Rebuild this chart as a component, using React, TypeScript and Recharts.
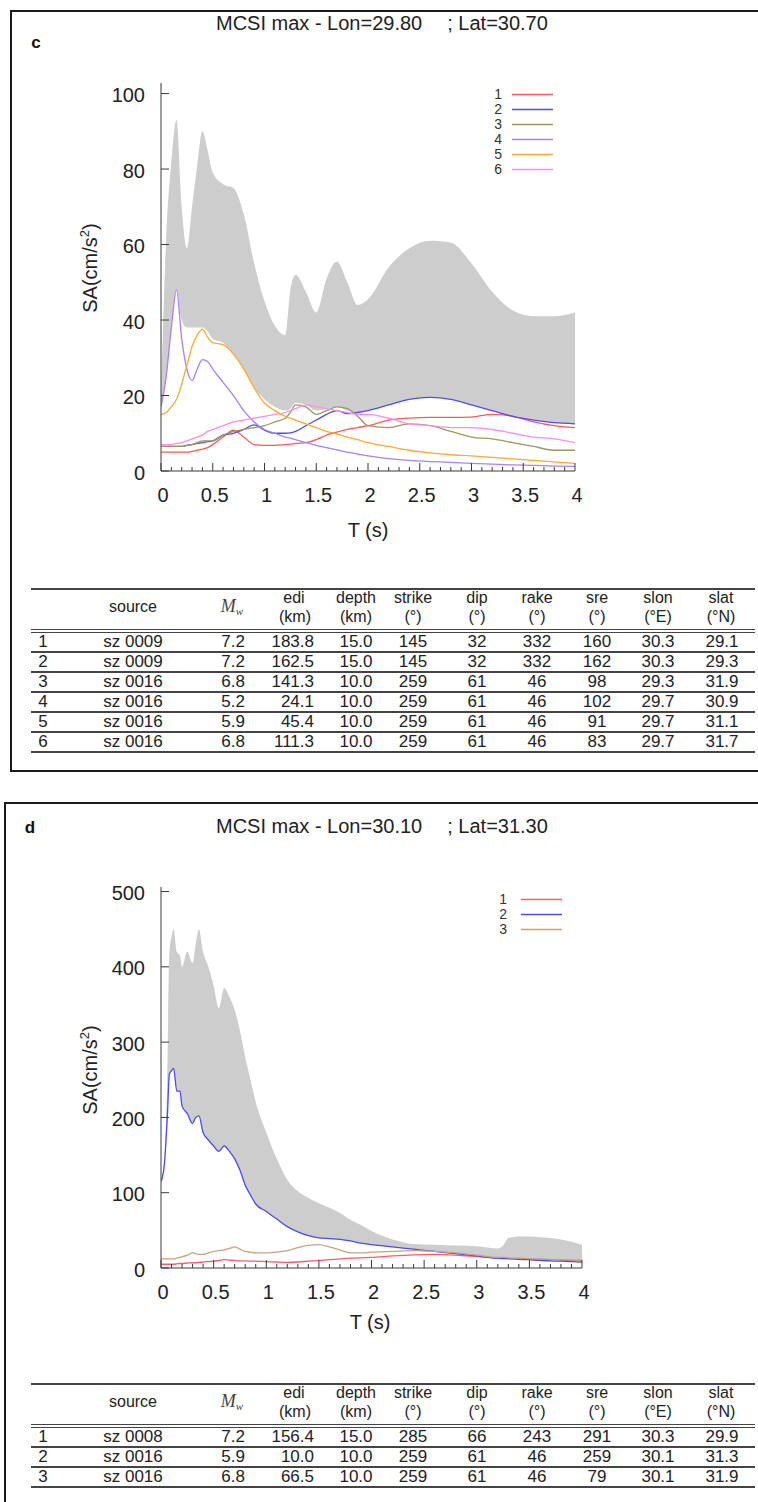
import React from 'react';
import { Area, ComposedChart, Legend, Line, XAxis, YAxis } from 'recharts';

const SANS = '"Liberation Sans", Arial, Helvetica, sans-serif';
const FRAME = '#3a3a3a';
const INK = '#222';
const BAND = '#cdcdcd';

// period grid (s) and spectra for panel c
const T_C = [0, 0.05, 0.1, 0.15, 0.2, 0.25, 0.3, 0.35, 0.4, 0.45, 0.5, 0.6, 0.7, 0.8, 0.9, 1.0, 1.1, 1.2, 1.25, 1.3, 1.4, 1.5, 1.6, 1.7, 1.8, 1.9, 2.0, 2.2, 2.4, 2.6, 2.8, 3.0, 3.2, 3.4, 3.6, 3.8, 4.0];
const UPPER_C = [20, 62, 82, 93, 70, 59, 70, 81, 90, 85, 79, 76, 75, 68, 55, 45, 38.5, 36, 48, 52, 47.5, 42, 51, 55.5, 50, 44, 45.5, 54, 59, 61, 60.5, 55, 47.5, 42.5, 41, 41, 42];
const LOWER_C = [17, 25, 38, 48, 40, 38, 38, 38, 38, 37, 35, 34, 31, 27, 22, 19, 17, 16, 16.5, 18, 17.5, 16, 16.5, 17, 16, 15.5, 16, 17.5, 19, 19.5, 19, 17.5, 16, 14.5, 13.5, 12.8, 12.5];
const S1_C = [5, 5, 5, 5, 5, 5, 5.2, 5.5, 5.8, 6.2, 7, 9, 10.8, 9, 7, 6.8, 6.8, 7, 7.1, 7.3, 7.5, 8.3, 9.5, 10.3, 11, 11.5, 12, 13.5, 14, 14.2, 14.2, 14.3, 15, 14.5, 13, 12, 11.5];
const S2_C = [6.5, 6.5, 6.5, 6.5, 6.5, 6.8, 7, 7.3, 7.5, 7.8, 8, 9.5, 10, 11, 12.2, 10.8, 10, 10, 10.1, 10.5, 12, 13.5, 15, 16, 15.2, 15.5, 16, 17.5, 19, 19.5, 19, 17.5, 16, 14.5, 13.5, 12.8, 12.5];
const S3_C = [6.5, 6.5, 6.5, 6.5, 6.5, 6.8, 7, 7.5, 8, 8, 8, 9.5, 10.5, 11, 11.5, 12, 13, 14, 15.5, 17.5, 17, 15, 16, 17, 16.5, 14.5, 12, 11.5, 12.5, 12, 10.5, 9, 8.5, 7.5, 6.5, 5.5, 5.5];
const S4_C = [17, 25, 38, 48, 35, 27, 24, 27, 29.5, 29, 27, 23.5, 20, 16, 13, 11, 10, 9, 8.7, 8.3, 7.5, 6.8, 6.2, 5.6, 5, 4.5, 4, 3.3, 2.8, 2.5, 2.3, 2, 1.8, 1.6, 1.5, 1.3, 1.2];
const S5_C = [15, 15.5, 17, 19, 23, 28, 33, 36, 37.5, 35.5, 34, 33.5, 31, 27, 22, 18, 16, 14.5, 14, 13.5, 12.5, 11.5, 10.5, 9.8, 9, 8.3, 7.5, 6.5, 5.5, 4.8, 4.3, 4, 3.6, 3.2, 2.8, 2.4, 2];
const S6_C = [7, 7, 7, 7.3, 7.5, 8, 8.5, 9, 9.5, 10.5, 11, 12, 13, 13.5, 14, 14.5, 15, 15.5, 16, 16.5, 17.5, 17, 16.5, 16, 15.5, 15, 15, 14, 12.5, 12, 11.5, 11.5, 11, 10, 9, 8.5, 7.5];

// panel d
const T_D = [0, 0.03, 0.06, 0.08, 0.1, 0.12, 0.15, 0.18, 0.2, 0.25, 0.3, 0.33, 0.36, 0.4, 0.45, 0.5, 0.55, 0.6, 0.65, 0.7, 0.75, 0.8, 0.85, 0.9, 1.0, 1.1, 1.2, 1.3, 1.4, 1.5, 1.6, 1.7, 1.8, 1.9, 2.0, 2.2, 2.4, 2.6, 2.8, 3.0, 3.2, 3.25, 3.3, 3.4, 3.5, 3.6, 3.7, 3.8, 3.9, 4.0];
const UPPER_D = [115, 140, 260, 420, 440, 450, 420, 415, 400, 420, 405, 430, 450, 420, 400, 375, 345, 372, 360, 343, 315, 280, 250, 220, 180, 145, 117, 102, 93, 86, 80, 73, 64, 57, 49, 38, 32, 31, 30, 29, 26, 30, 40, 42, 42, 41, 40, 38, 35, 31];
const LOWER_D = [115, 135, 200, 258, 262, 265, 235, 235, 215, 205, 192, 200, 202, 180, 170, 162, 155, 162, 155, 145, 130, 110, 97, 85, 75, 65, 55, 48, 43, 40, 39, 38, 36, 33, 31, 28, 25, 22.5, 20, 17, 14, 14, 13.5, 13, 12.5, 12, 11.5, 11, 10.5, 10];
const S1_D = [5, 5, 5, 5, 5, 5, 5.5, 6, 6, 6.5, 7, 7, 7.5, 8, 8.5, 9, 10, 11, 10.5, 10, 9.5, 9.5, 9, 9, 8.5, 8, 7.5, 8, 9, 10, 11, 12, 13, 13.5, 14, 16, 17.5, 18, 17, 15, 13, 12.5, 12.5, 12, 11.5, 11, 11, 10.5, 10, 10];
const S2_D = [115, 135, 200, 258, 262, 265, 235, 235, 215, 205, 192, 200, 202, 180, 170, 162, 155, 162, 155, 145, 130, 110, 97, 85, 75, 65, 55, 48, 43, 40, 39, 38, 36, 33, 31, 28, 25, 22, 19, 16, 13, 12.8, 12.5, 11.5, 11, 10, 9.5, 9, 8.5, 8];
const S3_D = [12, 12, 12, 12, 12, 12, 13, 14, 15, 17, 20, 19, 18, 18, 20, 22, 23, 24, 26, 28, 25, 22, 21, 20, 20, 21, 23, 27, 30, 31, 28, 24, 20, 20, 21, 22, 23, 22, 20, 17, 14, 14, 13.5, 13, 12.5, 12, 11.5, 11, 10.5, 10];

const X_TICKS = [0, 0.5, 1, 1.5, 2, 2.5, 3, 3.5, 4];
const X_MINOR = Array.from({ length: 41 }, (_, i) => i / 10);
const Y_TICKS_C = [0, 20, 40, 60, 80, 100];
const Y_TICKS_D = [0, 100, 200, 300, 400, 500];

// tables
const HEAD_1 = ['', 'source', '', 'edi', 'depth', 'strike', 'dip', 'rake', 'sre', 'slon', 'slat'];
const HEAD_2 = ['', '', '', '(km)', '(km)', '(°)', '(°)', '(°)', '(°)', '(°E)', '(°N)'];
const ROWS_C = [
  ['1', 'sz 0009', '7.2', '183.8', '15.0', '145', '32', '332', '160', '30.3', '29.1'],
  ['2', 'sz 0009', '7.2', '162.5', '15.0', '145', '32', '332', '162', '30.3', '29.3'],
  ['3', 'sz 0016', '6.8', '141.3', '10.0', '259', '61', '46', '98', '29.3', '31.9'],
  ['4', 'sz 0016', '5.2', '24.1', '10.0', '259', '61', '46', '102', '29.7', '30.9'],
  ['5', 'sz 0016', '5.9', '45.4', '10.0', '259', '61', '46', '91', '29.7', '31.1'],
  ['6', 'sz 0016', '6.8', '111.3', '10.0', '259', '61', '46', '83', '29.7', '31.7'],
];
const ROWS_D = [
  ['1', 'sz 0008', '7.2', '156.4', '15.0', '285', '66', '243', '291', '30.3', '29.9'],
  ['2', 'sz 0016', '5.9', '10.0', '10.0', '259', '61', '46', '259', '30.1', '31.3'],
  ['3', 'sz 0016', '6.8', '66.5', '10.0', '259', '61', '46', '79', '30.1', '31.9'],
];
// column anchor x and alignment
const COL_X = [43, 133, 245, 314, 356, 413, 477, 537, 597, 658, 722];
const HEAD_X = [43, 133, 232, 294, 356, 413, 477, 537, 597, 658, 721];
const COL_ALIGN = ['c', 'c', 'r', 'r', 'c', 'c', 'c', 'c', 'c', 'c', 'c'];

const fmtT = (v: number) => String(Math.round(v * 10) / 10);
const isMajor = (v: number) => Math.abs(v * 2 - Math.round(v * 2)) < 1e-6;

const BottomTick = (p: any) => {
  const v = p.payload.value;
  const major = isMajor(v);
  return (
    <g>
      <line x1={p.x} x2={p.x} y1={p.y} y2={p.y - (major ? 8 : 4)} stroke={FRAME} strokeWidth={1} />
      {major && X_TICKS.includes(v) && (
        <text x={p.x + 2} y={p.y + 31} textAnchor="middle" fontSize={20} fontFamily={SANS} fill={INK}>
          {fmtT(v)}
        </text>
      )}
    </g>
  );
};
const TopTick = (p: any) => {
  const major = isMajor(p.payload.value);
  return <line x1={p.x} x2={p.x} y1={p.y} y2={p.y + (major ? 8 : 4)} stroke={FRAME} strokeWidth={1} />;
};
const LeftTick = (p: any) => (
  <g>
    <line x1={p.x} x2={p.x + 8} y1={p.y} y2={p.y} stroke={FRAME} strokeWidth={1} />
    <text x={p.x - 16} y={p.y + 1.5} dy="0.35em" textAnchor="end" fontSize={20} fontFamily={SANS} fill={INK}>
      {p.payload.value}
    </text>
  </g>
);
const RightTick = (p: any) => <line x1={p.x} x2={p.x - 8} y1={p.y} y2={p.y} stroke={FRAME} strokeWidth={1} />;

const renderLegend = (gap: number) => (props: any) => (
  <div style={{ fontFamily: SANS, fontSize: 14, color: '#333', lineHeight: '15px' }}>
    {(props.payload || [])
      .filter((p: any) => p.type !== 'none')
      .map((p: any) => (
        <div key={p.value} style={{ display: 'flex', alignItems: 'center', height: 15 }}>
          <span style={{ width: 20, textAlign: 'right' }}>{p.value}</span>
          <svg width={gap + 42} height={15}>
            <line x1={gap} x2={gap + 41} y1={7.5} y2={7.5} stroke={p.color} strokeWidth={1.3} />
          </svg>
        </div>
      ))}
  </div>
);

type Series = { key: string; name: string; color: string; values: number[] };

interface SpectrumChartProps {
  t: number[];
  lower: number[];
  upper: number[];
  series: Series[];
  yMax: number;
  yTicks: number[];
  margin: { top: number; right: number; left: number; bottom: number };
  legend: { left: number; top: number; gap: number };
}

function SpectrumChart({ t, lower, upper, series, yMax, yTicks, margin, legend }: SpectrumChartProps) {
  const data = t.map((tv, i) => {
    const row: Record<string, any> = { t: tv, band: [lower[i], upper[i]] };
    series.forEach((s) => {
      row[s.key] = s.values[i];
    });
    return row;
  });
  return (
    <ComposedChart width={500} height={460} data={data} margin={margin}>
      <XAxis dataKey="t" type="number" domain={[0, 4]} ticks={X_MINOR} interval={0} tickSize={0} tickMargin={0} tick={BottomTick} stroke={FRAME} allowDataOverflow height={30} />
      <XAxis xAxisId="top" orientation="top" type="number" domain={[0, 4]} ticks={X_MINOR} interval={0} tickSize={0} tickMargin={0} tick={TopTick} stroke={FRAME} allowDataOverflow height={0} />
      <YAxis type="number" domain={[0, yMax]} ticks={yTicks} interval={0} tickSize={0} tickMargin={0} tick={LeftTick} stroke={FRAME} allowDataOverflow width={61} />
      <YAxis yAxisId="right" orientation="right" type="number" domain={[0, yMax]} ticks={yTicks} interval={0} tickSize={0} tickMargin={0} tick={RightTick} stroke={FRAME} allowDataOverflow width={0} />
      <Area dataKey="band" type="monotone" stroke="none" fill={BAND} fillOpacity={1} legendType="none" isAnimationActive={false} />
      {series.map((s) => (
        <Line key={s.key} dataKey={s.key} name={s.name} type="monotone" stroke={s.color} strokeWidth={1.3} dot={false} activeDot={false} isAnimationActive={false} />
      ))}
      <Legend layout="vertical" align="center" verticalAlign="middle" wrapperStyle={{ left: legend.left, top: legend.top, width: 'auto' }} content={renderLegend(legend.gap)} />
    </ComposedChart>
  );
}

function Abs({ x, y, children, style, anchor = 'c' }: any) {
  const tx = anchor === 'c' ? '-50%' : anchor === 'r' ? '-100%' : '0';
  return (
    <div style={{ position: 'absolute', left: x, top: y, transform: `translate(${tx}, -50%)`, whiteSpace: 'pre', lineHeight: 1, ...style }}>
      {children}
    </div>
  );
}

function HLine({ y, h = 1.5 }: { y: number; h?: number }) {
  return <div style={{ position: 'absolute', left: 31, width: 724, top: y, height: h, background: '#444' }} />;
}

function SourceTable({ top, rows }: { top: number; rows: string[][] }) {
  // top = y of the upper rule
  const dbl = top + 42;
  const pitch = 20;
  return (
    <>
      <HLine y={top} />
      {HEAD_1.map((h, i) => {
        if (i === 0) return null;
        if (i === 2) {
          return (
            <Abs key={i} x={HEAD_X[i]} y={top + 19} style={{ fontFamily: '"Liberation Serif", "DejaVu Serif", serif', fontStyle: 'italic', fontSize: 18, color: '#444' }}>
              M<sub style={{ fontSize: 11, verticalAlign: -3 }}>w</sub>
            </Abs>
          );
        }
        if (!HEAD_2[i]) {
          return (
            <Abs key={i} x={HEAD_X[i]} y={top + 19} style={{ fontSize: 16, color: INK }}>
              {h}
            </Abs>
          );
        }
        return (
          <React.Fragment key={i}>
            <Abs x={HEAD_X[i]} y={top + 10} style={{ fontSize: 16, color: INK }}>
              {h}
            </Abs>
            <Abs x={HEAD_X[i] + (i === 3 ? 1 : 0)} y={top + 29} style={{ fontSize: 16, color: INK }}>
              {HEAD_2[i]}
            </Abs>
          </React.Fragment>
        );
      })}
      <HLine y={dbl - 1.5} h={1} />
      <HLine y={dbl + 1.5} h={1} />
      {rows.map((r, ri) => (
        <React.Fragment key={ri}>
          {r.map((cell, ci) => (
            <Abs key={ci} x={COL_X[ci]} y={dbl + pitch * ri + 11} anchor={COL_ALIGN[ci]} style={{ fontSize: 17, color: INK }}>
              {cell}
            </Abs>
          ))}
          <HLine y={dbl + pitch * (ri + 1) + 1} />
        </React.Fragment>
      ))}
    </>
  );
}

const SERIES_C: Series[] = [
  { key: 's1', name: '1', color: '#ff5a5a', values: S1_C },
  { key: 's2', name: '2', color: '#4b4bff', values: S2_C },
  { key: 's3', name: '3', color: '#9a9a5a', values: S3_C },
  { key: 's4', name: '4', color: '#a582ff', values: S4_C },
  { key: 's5', name: '5', color: '#ffaa33', values: S5_C },
  { key: 's6', name: '6', color: '#ff8cf0', values: S6_C },
];
const SERIES_D: Series[] = [
  { key: 's1', name: '1', color: '#ff5a6e', values: S1_D },
  { key: 's2', name: '2', color: '#4b4bee', values: S2_D },
  { key: 's3', name: '3', color: '#c8a27a', values: S3_D },
];

function Title({ y, lon, lat }: { y: number; lon: string; lat: string }) {
  return (
    <div style={{ position: 'absolute', left: 216, top: y, transform: 'translateY(-50%)', fontSize: 20, lineHeight: 1, color: INK, whiteSpace: 'pre' }}>
      {`MCSI max - Lon=${lon}`}
      <span style={{ marginLeft: 25 }}>{`; Lat=${lat}`}</span>
    </div>
  );
}

function YTitle({ x, y }: { x: number; y: number }) {
  return (
    <Abs x={x} y={y} style={{ fontSize: 20, color: INK, transform: 'translate(-50%, -50%) rotate(-90deg)' }}>
      SA(cm/s<sup style={{ fontSize: 13, verticalAlign: 8, lineHeight: 0 }}>2</sup>)
    </Abs>
  );
}

export default function App() {
  return (
    <div style={{ position: 'absolute', left: 0, top: 0, width: 758, height: 1502, overflow: 'hidden', background: '#fff', fontFamily: SANS }}>
      {/* panel c */}
      <div style={{ position: 'absolute', left: 10, top: 10, width: 770, height: 762, border: '2.5px solid #1a1a1a', boxSizing: 'border-box' }} />
      <Abs x={36} y={42} style={{ fontWeight: 700, fontSize: 17, color: '#111' }}>c</Abs>
      <Title y={23} lon="29.80" lat="30.70" />
      <div style={{ position: 'absolute', left: 100, top: 70 }}>
        <SpectrumChart
          t={T_C}
          lower={LOWER_C}
          upper={UPPER_C}
          series={SERIES_C}
          yMax={102.8}
          yTicks={Y_TICKS_C}
          margin={{ top: 13, right: 25, left: 0, bottom: 29 }}
          legend={{ left: 382, top: 17, gap: 10 }}
        />
      </div>
      <YTitle x={90} y={268} />
      <Abs x={368} y={530} style={{ fontSize: 20, color: INK }}>T (s)</Abs>
      <SourceTable top={588} rows={ROWS_C} />

      {/* panel d */}
      <div style={{ position: 'absolute', left: 4, top: 802, width: 780, height: 760, border: '2.5px solid #1a1a1a', boxSizing: 'border-box' }} />
      <Abs x={30} y={827} style={{ fontWeight: 700, fontSize: 17, color: '#111' }}>d</Abs>
      <Title y={826} lon="30.10" lat="31.30" />
      <div style={{ position: 'absolute', left: 100, top: 870 }}>
        <SpectrumChart
          t={T_D}
          lower={LOWER_D}
          upper={UPPER_D}
          series={SERIES_D}
          yMax={506}
          yTicks={Y_TICKS_D}
          margin={{ top: 17, right: 18, left: 0, bottom: 32 }}
          legend={{ left: 387, top: 21.5, gap: 14 }}
        />
      </div>
      <YTitle x={90} y={1070} />
      <Abs x={370} y={1322} style={{ fontSize: 20, color: INK }}>T (s)</Abs>
      <SourceTable top={1383} rows={ROWS_D} />
    </div>
  );
}
